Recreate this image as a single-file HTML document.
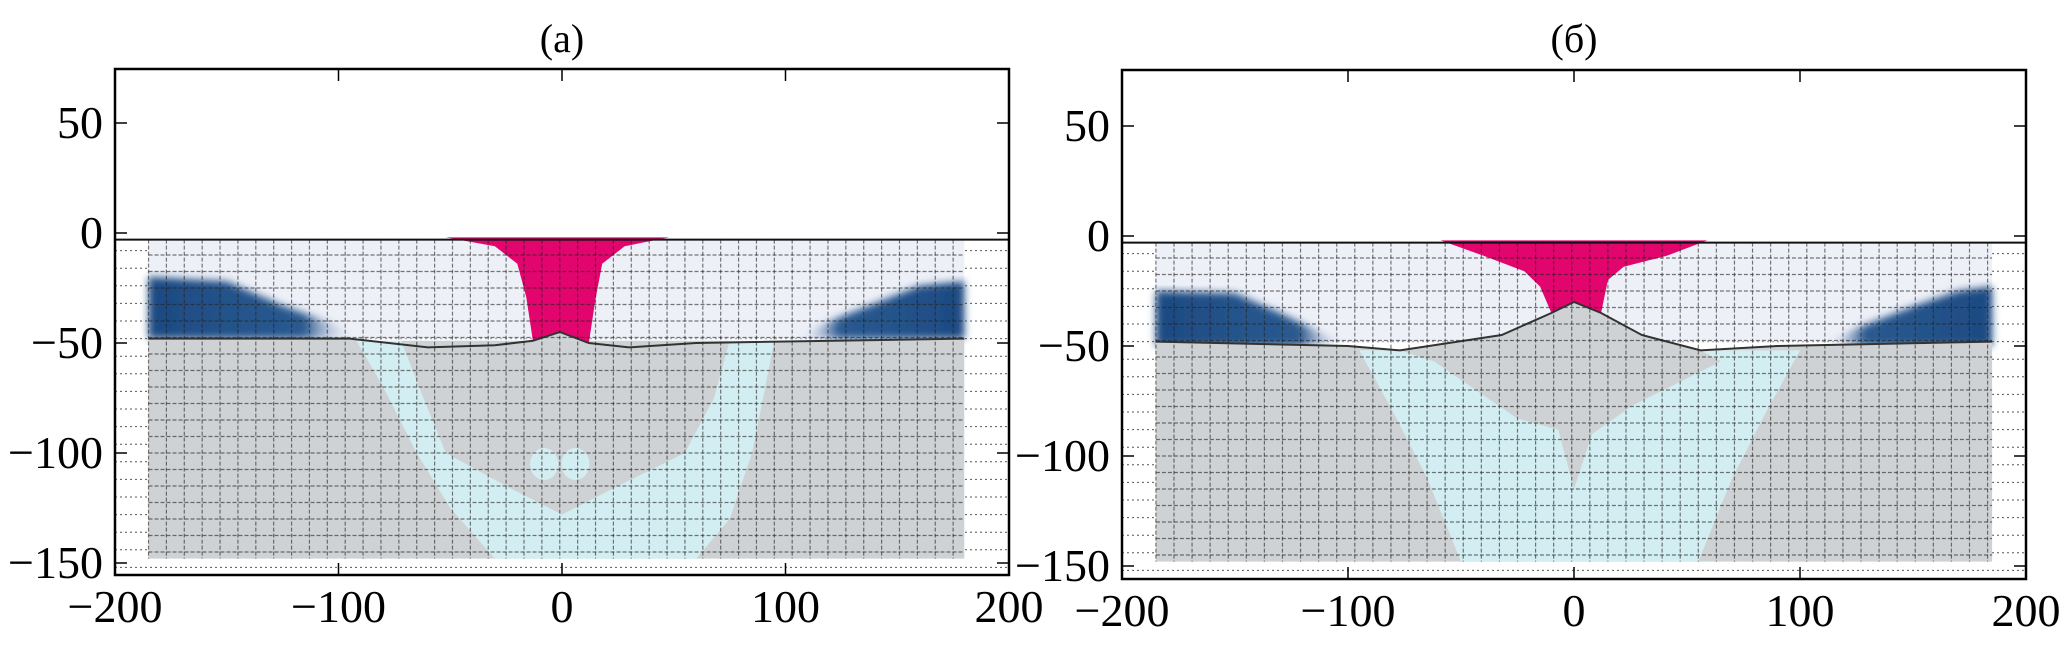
<!DOCTYPE html>
<html><head><meta charset="utf-8"><style>
html,body{margin:0;padding:0;background:#fff;}
svg{display:block;}
text{font-family:"Liberation Serif","Times New Roman",serif;}
</style></head><body>
<svg id="fig" width="2067" height="647" viewBox="0 0 2067 647" xmlns="http://www.w3.org/2000/svg">
<defs>
<linearGradient id="blueL" x1="0" y1="0" x2="1" y2="0"><stop offset="0" stop-color="#1d4a82"/><stop offset="0.75" stop-color="#2a5a90"/><stop offset="1" stop-color="#eef0f8" stop-opacity="0"/></linearGradient>
<linearGradient id="blueR" x1="1" y1="0" x2="0" y2="0"><stop offset="0" stop-color="#1d4a82"/><stop offset="0.75" stop-color="#2a5a90"/><stop offset="1" stop-color="#eef0f8" stop-opacity="0"/></linearGradient>
<filter id="blur3"><feGaussianBlur stdDeviation="4"/></filter>
</defs>
</svg>
<script>
// ---- data (model units: km) ----
const xTicks = [-200, -100, 0, 100, 200];
const yTicks = [50, 0, -50, -100, -150];
const panelTitles = ['(a)', '(б)'];
const crustTop = -3;
const crustBottom = -48;
const mantleBottom = -148;
const modelLeft = -185;
const modelRight = 180;
// panel a shapes [x,y]
const magentaA = [[-52,-2],[-30,-6],[-20,-14],[-16,-29],[-13,-49],[-1,-45],[12,-50],[15,-30],[18,-14],[28,-6],[48,-2]];
const mantleTopA = [[-185,-48],[-95,-48],[-60,-52],[-30,-51],[-13,-49],[-1,-45],[12,-50],[30,-52],[60,-50],[180,-48]];
const cyanOuterA = [[-92,-49],[-80,-70],[-65,-100],[-50,-125],[-30,-148],[60,-148],[75,-130],[85,-100],[90,-75],[95,-49]];
const grayInnerA = [[-72,-49],[-62,-75],[-52,-100],[-25,-115],[0,-128],[25,-115],[55,-100],[68,-75],[75,-49]];
const blobsA = [[-8,-105],[6,-105]];
const blueLeftA = [[-185,-20],[-150,-22],[-125,-33],[-100,-42],[-92,-48],[-185,-48]];
const blueRightA = [[105,-48],[120,-40],[145,-30],[160,-24],[180,-22],[180,-48]];
// panel b shapes
const magentaB = [[-59,-2],[-40,-9],[-22,-16],[-15,-23],[-10,-35],[0,-30],[12,-35],[15,-20],[22,-14],[41,-9],[59,-2]];
const mantleTopB = [[-185,-48],[-100,-50],[-77,-52],[-32,-45],[-10,-35],[0,-30],[12,-35],[30,-45],[56,-52],[90,-50],[185,-48]];
const cyanOuterB = [[-95,-52],[-80,-80],[-65,-110],[-50,-148],[55,-148],[70,-110],[85,-80],[100,-52]];
const grayInnerB = [[-77,-52],[-62,-57],[-25,-83],[-7,-88],[0,-115],[8,-90],[26,-77],[65,-57],[56,-52],[30,-45],[0,-30],[-32,-45]];
const blueLeftB = [[-185,-25],[-150,-26],[-130,-35],[-110,-45],[-100,-50],[-185,-50]];
const blueRightB = [[110,-50],[125,-42],[150,-32],[170,-25],[185,-23],[185,-50]];

const panels = [
 {name:'panel-a', L:115, R:1009, T:69, B:575, y0:233, ys:2.2, mag:magentaA, mtop:mantleTopA, cyan:cyanOuterA, gin:grayInnerA, blobs:blobsA, bl:blueLeftA, br:blueRightA, mr:modelRight},
 {name:'panel-b', L:1122, R:2026, T:70, B:579, y0:236, ys:2.2, mag:magentaB, mtop:mantleTopB, cyan:cyanOuterB, gin:grayInnerB, blobs:[], bl:blueLeftB, br:blueRightB, mr:185}
];
const NS='http://www.w3.org/2000/svg';
const svg=document.getElementById('fig');
function mk(tag,attrs,parent){const e=document.createElementNS(NS,tag);for(const k in attrs)e.setAttribute(k,attrs[k]);(parent||svg).appendChild(e);return e;}
const FONT='"Liberation Serif", serif';

panels.forEach((p,pi)=>{
  const sx=x=>p.L+(x+200)*(p.R-p.L)/400;
  const sy=y=>p.y0-y*p.ys;
  const pts=a=>a.map(q=>sx(q[0]).toFixed(1)+','+sy(q[1]).toFixed(1)).join(' ');
  const g=mk('g',{});
  
  
  const clipId='clip'+pi;
  const cp=mk('clipPath',{id:clipId},g);
  mk('rect',{x:p.L,y:p.T,width:p.R-p.L,height:p.B-p.T},cp);
  const inner=mk('g',{'clip-path':'url(#'+clipId+')'},g);
  for(let y=crustTop-5;y>=-155;y-=8){mk('line',{x1:p.L,x2:p.R,y1:sy(y),y2:sy(y),stroke:'#555','stroke-width':1,'stroke-dasharray':'2 3'},inner);}
  const crust=mk('rect',{x:sx(modelLeft),y:sy(crustTop),width:sx(p.mr)-sx(modelLeft),height:sy(crustBottom)-sy(crustTop),fill:'#eef0f8'},inner);
  
  
  const b1=mk('polygon',{points:pts(p.bl),fill:'url(#blueL)',filter:'url(#blur3)'},inner);
  
  
  const b2=mk('polygon',{points:pts(p.br),fill:'url(#blueR)',filter:'url(#blur3)'},inner);
  
  
  const mpoly=p.mtop.concat([[p.mr,mantleBottom],[modelLeft,mantleBottom]]);
  const m=mk('polygon',{points:pts(mpoly),fill:'#cfd2d4'},inner);
  
  
  const c=mk('polygon',{points:pts(p.cyan),fill:'#d3eef2'},inner);
  
  
  const gi=mk('polygon',{points:pts(p.gin),fill:'#cfd2d4'},inner);
  
  
  p.blobs.forEach(b=>{const e=mk('ellipse',{cx:sx(b[0]),cy:sy(b[1]),rx:14,ry:16,fill:'#d3eef2'},inner);
    
    });
  const mg=mk('polygon',{points:pts(p.mag),fill:'#e2056e'},inner);
  
  
  const ml=mk('polyline',{points:pts(p.mtop),fill:'none',stroke:'#333','stroke-width':2},inner);
  
  
  const sl=mk('line',{x1:p.L,x2:p.R,y1:sy(crustTop),y2:sy(crustTop),stroke:'#111','stroke-width':2},inner);
  
  
  for(let x=modelLeft;x<=p.mr;x+=8){mk('line',{x1:sx(x),x2:sx(x),y1:sy(crustTop),y2:sy(mantleBottom),stroke:'#222','stroke-width':1.2,'stroke-dasharray':'4 2',opacity:0.6},inner);}
  for(let y=crustTop-7;y>=mantleBottom;y-=7.5){mk('line',{x1:sx(modelLeft),x2:sx(p.mr),y1:sy(y),y2:sy(y),stroke:'#222','stroke-width':1.2,'stroke-dasharray':'4 2',opacity:0.6},inner);}
  const fr=mk('rect',{x:p.L,y:p.T,width:p.R-p.L,height:p.B-p.T,fill:'none',stroke:'#000','stroke-width':2.5},g);
  
  
  xTicks.forEach(v=>{
    mk('line',{x1:sx(v),x2:sx(v),y1:p.B,y2:p.B-12,stroke:'#000','stroke-width':1.5},g);
    mk('line',{x1:sx(v),x2:sx(v),y1:p.T,y2:p.T+12,stroke:'#000','stroke-width':1.5},g);
    const t=mk('text',{x:sx(v),y:p.B+47,'text-anchor':'middle','font-size':46,'font-family':FONT,fill:'#000'},g);
    t.textContent=(v<0?'\u2212'+(-v):String(v));
    
    
  });
  yTicks.forEach(v=>{
    mk('line',{x1:p.L,x2:p.L+12,y1:sy(v),y2:sy(v),stroke:'#000','stroke-width':1.5},g);
    mk('line',{x1:p.R,x2:p.R-12,y1:sy(v),y2:sy(v),stroke:'#000','stroke-width':1.5},g);
    const t=mk('text',{x:p.L-12,y:sy(v)+15,'text-anchor':'end','font-size':46,'font-family':FONT,fill:'#000'},g);
    t.textContent=(v<0?'\u2212'+(-v):String(v));
    
    
  });
  const tt=mk('text',{x:sx(0),y:52,'text-anchor':'middle','font-size':40,'font-family':FONT,fill:'#000'},g);
  tt.textContent=panelTitles[pi];
  
  
});
</script>
</body></html>
